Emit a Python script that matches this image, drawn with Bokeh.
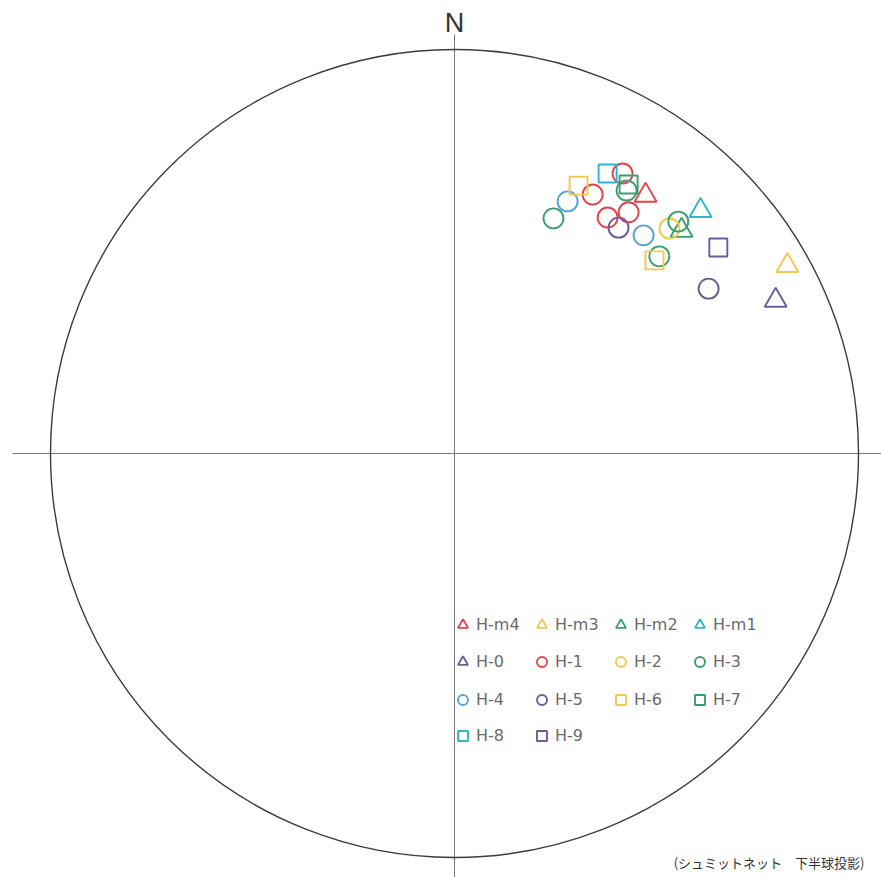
from bokeh.plotting import figure
from bokeh.models import Legend, LegendItem, Label, Range1d
from bokeh.embed import file_html
from bokeh.resources import INLINE

# ---- data: poles projected on a unit Schmidt net (x = East, y = North) ----
series_names = ["H-m4", "H-m3", "H-m2", "H-m1", "H-0", "H-1", "H-2", "H-3",
                "H-4", "H-5", "H-6", "H-7", "H-8", "H-9"]

x_Hm4 = [0.473]; y_Hm4 = [0.639]
x_Hm3 = [0.824]; y_Hm3 = [0.465]
x_Hm2 = [0.562]; y_Hm2 = [0.552]
x_Hm1 = [0.609]; y_Hm1 = [0.601]
x_H0 = [0.795]; y_H0 = [0.379]
x_H1 = [0.416, 0.342, 0.431, 0.379]; y_H1 = [0.693, 0.641, 0.597, 0.584]
x_H2 = [0.532]; y_H2 = [0.557]
x_H3 = [0.245, 0.554, 0.507, 0.426]; y_H3 = [0.582, 0.574, 0.488, 0.651]
x_H4 = [0.280, 0.468]; y_H4 = [0.624, 0.540]
x_H5 = [0.406, 0.629]; y_H5 = [0.559, 0.408]
x_H6 = [0.307, 0.495]; y_H6 = [0.663, 0.478]
x_H7 = [0.431]; y_H7 = [0.666]
x_H8 = [0.379]; y_H8 = [0.693]
x_H9 = [0.653]; y_H9 = [0.510]

xs = [x_Hm4, x_Hm3, x_Hm2, x_Hm1, x_H0, x_H1, x_H2, x_H3, x_H4, x_H5, x_H6, x_H7, x_H8, x_H9]
ys = [y_Hm4, y_Hm3, y_Hm2, y_Hm1, y_H0, y_H1, y_H2, y_H3, y_H4, y_H5, y_H6, y_H7, y_H8, y_H9]

north_label = "N"
caption = "(シュミットネット　下半球投影)"

# ---- styles ----
RED, YEL, GRN, CYA, BLU, PUR = "#e8414b", "#f5c84a", "#3a9e6e", "#2fb4cc", "#55a3dc", "#6e5b99"
styles = {
    "H-m4": ("triangle", RED), "H-m3": ("triangle", YEL), "H-m2": ("triangle", GRN),
    "H-m1": ("triangle", CYA), "H-0": ("triangle", PUR),
    "H-1": ("circle", RED), "H-2": ("circle", YEL), "H-3": ("circle", GRN),
    "H-4": ("circle", BLU), "H-5": ("circle", PUR),
    "H-6": ("square", YEL), "H-7": ("square", GRN), "H-8": ("square", CYA), "H-9": ("square", PUR),
}
sizes = {"triangle": 22, "circle": 20, "square": 18}

W, H = 881, 877
SCALE = 404.0          # px per unit radius
CX, CY = 454.0, 453.0  # net centre in frame px (from left, from top)

p = figure(width=W, height=H, output_backend="svg", toolbar_location=None,
           x_axis_location=None, y_axis_location=None, min_border=0,
           x_range=Range1d(-CX / SCALE, (W - CX) / SCALE),
           y_range=Range1d(-(H - CY) / SCALE, CY / SCALE))
p.grid.visible = False
p.outline_line_color = None
p.background_fill_color = "white"

# crosshair
p.segment(x0=[-1.094], y0=[0], x1=[1.2], y1=[0], line_color="#7a7a7a", line_width=1)
p.segment(x0=[0], y0=[1.037], x1=[0], y1=[-1.2], line_color="#7a7a7a", line_width=1)
# primitive circle
p.circle(x=[0], y=[0], radius=1.0, fill_color=None, line_color="#3c3c3c", line_width=1.4)

items = []
for name, x, y in zip(series_names, xs, ys):
    marker, color = styles[name]
    r = p.scatter(x=x, y=y, marker=marker, size=sizes[marker], fill_color=None,
                  line_color=color, line_width=1.9)
    items.append(LegendItem(label=name, renderers=[r]))

# legend: four rows, four columns (row-major)
row_tops = [612, 649, 687, 723]
for i, top in enumerate(row_tops):
    row_items = items[i * 4:(i + 1) * 4]
    lg = Legend(items=row_items, orientation="horizontal",
                location=(450, H - top - 25),
                glyph_width=25, glyph_height=25, label_height=25, label_width=50,
                label_standoff=1, spacing=3, padding=0, margin=0,
                label_text_font="DejaVu Sans", label_text_font_size="16px",
                label_text_color="#6a6a6a", border_line_alpha=0,
                background_fill_alpha=0)
    p.add_layout(lg, "center")

p.add_layout(Label(x=0, y=(CY - 22) / SCALE, text=north_label, text_align="center",
                   text_baseline="middle", text_font="Liberation Sans",
                   text_font_size="27px", text_color="#333333"))
p.add_layout(Label(x=864, y=15, x_units="screen", y_units="screen", text=caption,
                   text_align="right", text_baseline="middle",
                   text_font="Noto Sans CJK JP", text_font_size="13px",
                   text_color="#333333"))

open("out.html", "w").write(file_html(p, INLINE))
